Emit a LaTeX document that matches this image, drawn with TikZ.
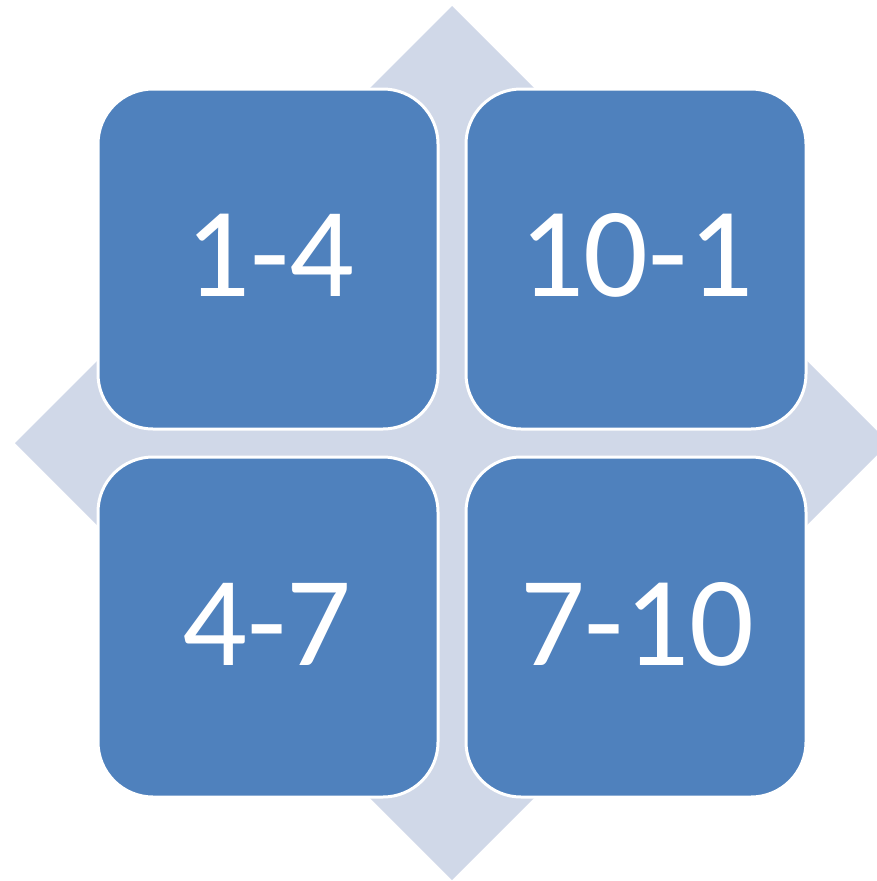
\documentclass[tikz,border=0pt]{standalone}
\usepackage{fontspec}
\setmainfont{Carlito}
\definecolor{boxblue}{HTML}{4F81BD}
\definecolor{diamondgray}{HTML}{D0D8E8}
\begin{document}
\begin{tikzpicture}[x=1pt,y=-1pt,
  quad/.style={draw=white, line width=3pt, fill=boxblue, rounded corners=55pt},
  lbl/.style={text=white, font=\fontsize{128}{128}\selectfont, inner sep=0pt, anchor=center}]
\useasboundingbox (0,0) rectangle (877,881);
\begin{scope}
\clip (0,0) rectangle (877,881);
\fill[diamondgray] (452,6) -- (889,443) -- (452,880) -- (15,443) -- cycle;
\end{scope}
\draw[quad] (98,89) rectangle (438,429);
\draw[quad] (466,89) rectangle (806,429);
\draw[quad] (98,457) rectangle (438,797);
\draw[quad] (466,457) rectangle (806,797);
\node[lbl] (a) at (270,255) {1-4};
\node[lbl] (b) at (636,255) {10-1};
\node[lbl] (c) at (267,624) {4-7};
\node[lbl] (d) at (637,624) {7-10};
\end{tikzpicture}
\end{document}
